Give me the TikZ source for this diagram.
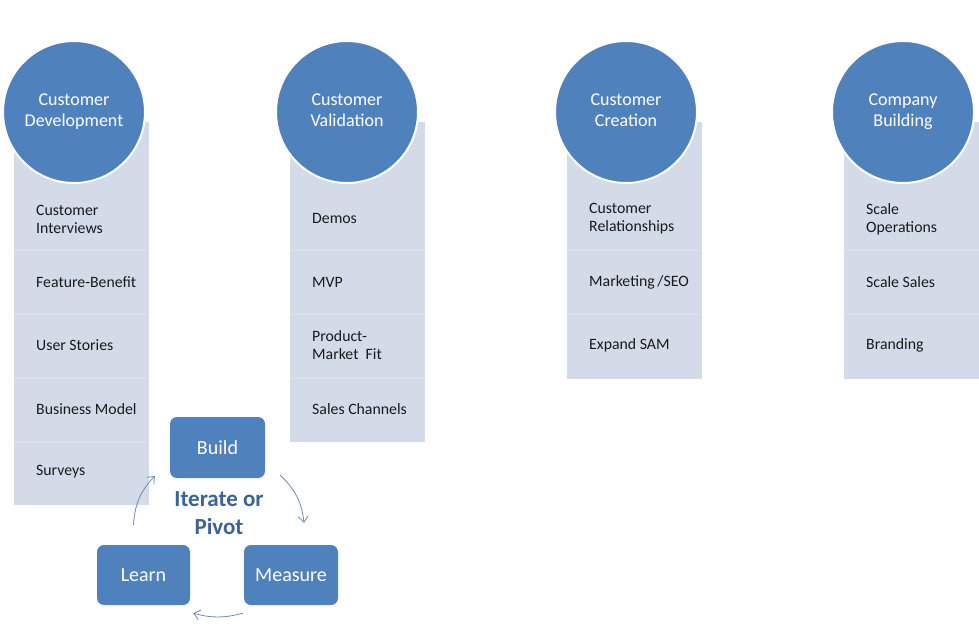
\documentclass[tikz,border=0pt]{standalone}
\usepackage{fontspec}
\setmainfont{Carlito}
\usetikzlibrary{arrows.meta}
\definecolor{cblue}{HTML}{4F81BD}
\definecolor{cpanel}{HTML}{D3DBE9}
\definecolor{csep}{HTML}{DCE2EE}
\definecolor{carrow}{HTML}{6F89B0}
\definecolor{ctitle}{HTML}{3B6398}
\definecolor{ctext}{HTML}{1A1A1A}
\begin{document}
\begin{tikzpicture}[x=1pt,y=-1pt,
  panel/.style={rectangle, fill=cpanel, draw=none, minimum width=135pt, inner sep=0pt, anchor=north west},
  stage/.style={circle, fill=cblue, draw=white, line width=2pt, minimum size=142pt, inner sep=0pt,
    text=white, align=center, font=\fontsize{18}{21}\selectfont},
  item/.style={anchor=west, inner sep=0pt, align=left, text=ctext, font=\fontsize{15.8}{18}\selectfont},
  sepline/.style={draw=csep, line width=1pt},
  cyclebox/.style={rectangle, rounded corners=7pt, fill=cblue, draw=none, text=white,
    font=\fontsize{20}{24}\selectfont},
  cyc/.style={draw=carrow, line width=0.8pt, -{Straight Barb[length=6pt,width=10pt]}}
]
\useasboundingbox (0,0) rectangle (979,629);
\fill[white] (0,0) rectangle (979,629);

% panels
\node[panel, minimum height=383pt] (p1) at (14,122) {};
\node[panel, minimum height=320pt] (p2) at (290,122) {};
\node[panel, minimum height=257pt] (p3) at (567,122) {};
\node[panel, minimum height=257pt] (p4) at (844,122) {};

% separators
\foreach \d in {128,192,256,320} {
  \draw[sepline] ([shift={(0,\d)}]p1.north west) -- ([shift={(0,\d)}]p1.north east);
}
\foreach \d in {128,192,256} {
  \draw[sepline] ([shift={(0,\d)}]p2.north west) -- ([shift={(0,\d)}]p2.north east);
}
\foreach \d in {128,192} {
  \draw[sepline] ([shift={(0,\d)}]p3.north west) -- ([shift={(0,\d)}]p3.north east);
  \draw[sepline] ([shift={(0,\d)}]p4.north west) -- ([shift={(0,\d)}]p4.north east);
}

% circles
\node[stage] (c1) at (74,112) {Customer\\Development};
\node[stage] (c2) at (347,112) {Customer\\Validation\vphantom{p}};
\node[stage] (c3) at (626,112) {Customer\\Creation\vphantom{p}};
\node[stage] (c4) at (903,112) {Company\\Building};

% items column 1
\node[item] (i11) at (36,219) {Customer\\Interviews};
\node[item] (i12) at (36,282) {Feature-Benefit};
\node[item] (i13) at (36,345) {User Stories};
\node[item] (i14) at (36,409) {Business Model};
\node[item] (i15) at (36,472) {Surveys};
% column 2
\node[item] (i21) at (312,218) {Demos};
\node[item] (i22) at (312,282) {MVP};
\node[item] (i23) at (312,345) {Product-\\Market\ \ Fit};
\node[item] (i24) at (312,409) {Sales Channels};
% column 3
\node[item] (i31) at (589,219) {Customer\\Relationships};
\node[item] (i32) at (589,282) {Marketing\,/SEO};
\node[item] (i33) at (589,345) {Expand SAM};
% column 4
\node[item] (i41) at (866,219) {Scale\\Operations};
\node[item] (i42) at (866,282) {Scale Sales};
\node[item] (i43) at (866,345) {Branding};

% cycle
\node[cyclebox, minimum width=95pt, minimum height=61pt] (build) at (217.5,447.5) {Build};
\node[cyclebox, minimum width=94pt, minimum height=60pt] (measure) at (291,575) {Measure};
\node[cyclebox, minimum width=93pt, minimum height=60pt] (learn) at (143.5,575) {Learn};
\node[align=center, text=ctitle, font=\bfseries\fontsize{23}{28}\selectfont] (iter) at (219,513) {Iterate or\\Pivot};

\draw[cyc] ([shift={(15,-3)}]build.south east) to[bend left=20] ([shift={(13,-22)}]measure.north);
\draw[cyc] ([shift={(-1,8)}]measure.south west) to[bend left=15] ([shift={(3,8)}]learn.south east);
\draw[cyc] ([shift={(-10,-20)}]learn.north) to[bend left=20] ([shift={(-15,28.5)}]build.west);
\end{tikzpicture}
\end{document}
